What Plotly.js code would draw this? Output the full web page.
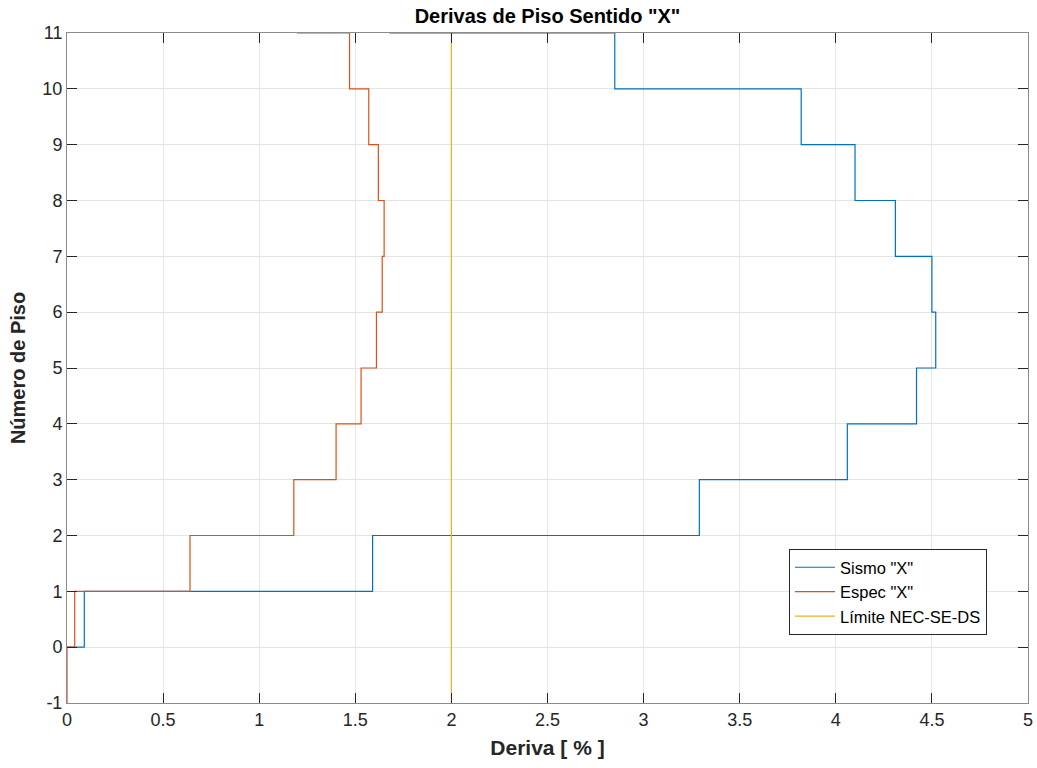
<!DOCTYPE html>
<html>
<head>
<meta charset="utf-8">
<script src="https://cdn.plot.ly/plotly-3.0.1.min.js"></script>
<style>html,body{margin:0;padding:0;background:#fff;}#chart{width:1037px;height:768px;}</style>
</head>
<body>
<div id="chart"></div>
<script>
// Floors (y) and drifts (x) for stairs plots
const sismoFloors = [0, 1, 2, 3, 4, 5, 6, 7, 8, 9, 10, 11, 12];
const sismoDrift  = [0, 0.09, 1.59, 3.29, 4.06, 4.42, 4.52, 4.50, 4.31, 4.10, 3.82, 2.85, 1.68];
const espFloors = [-1, 0, 1, 2, 3, 4, 5, 6, 7, 8, 9, 10, 11, 12];
const espDrift  = [0, 0, 0.04, 0.64, 1.18, 1.40, 1.53, 1.61, 1.64, 1.65, 1.62, 1.57, 1.47, 1.20];
const limFloors = [-1, 11];
const limDrift  = [2, 2];
const seriesNames = ['Sismo "X"', 'Espec "X"', 'Límite NEC-SE-DS'];
const xTicks = [0, 0.5, 1, 1.5, 2, 2.5, 3, 3.5, 4, 4.5, 5];
const yTicks = [-1, 0, 1, 2, 3, 4, 5, 6, 7, 8, 9, 10, 11];

const font = 'Arial, "Liberation Sans", Helvetica, sans-serif';
const traces = [
  {x: sismoDrift, y: sismoFloors, name: seriesNames[0], type: 'scatter', mode: 'lines',
   line: {shape: 'hv', color: '#0072BD', width: 1.2}},
  {x: espDrift, y: espFloors, name: seriesNames[1], type: 'scatter', mode: 'lines',
   line: {shape: 'hv', color: '#D95319', width: 1.2}},
  {x: limDrift, y: limFloors, name: seriesNames[2], type: 'scatter', mode: 'lines',
   line: {color: '#EDB120', width: 1.2}}
];
const axisCommon = {
  showgrid: true, gridcolor: '#e4e4e4', gridwidth: 1,
  zeroline: false, showline: true, linecolor: '#8c8c8c', linewidth: 1,
  mirror: 'ticks', ticks: 'inside', ticklen: 10, tickcolor: '#262626', tickwidth: 1,
  tickfont: {family: font, size: 18, color: '#262626'}
};
const layout = {
  width: 1037, height: 768,
  margin: {l: 67, r: 9, t: 33, b: 65, pad: 0},
  paper_bgcolor: '#ffffff', plot_bgcolor: '#ffffff',
  title: {text: '<b>Derivas de Piso Sentido "X"</b>', font: {family: font, size: 20, color: '#000'},
          x: 0.5, xref: 'paper', y: 1 - 16/768, yanchor: 'middle'},
  xaxis: Object.assign({}, axisCommon, {
    range: [0, 5], tickvals: xTicks, ticktext: xTicks.map(String),
    title: {text: '<b>Deriva [ % ]</b>', font: {family: font, size: 21, color: '#262626'}, standoff: 11}
  }),
  yaxis: Object.assign({}, axisCommon, {
    range: [-1, 11], tickvals: yTicks, ticktext: yTicks.map(String),
    title: {text: '<b>Número de Piso</b>', font: {family: font, size: 20, color: '#262626'}, standoff: 11}
  }),
  showlegend: true,
  legend: {x: (789 - 67) / 961, y: (703 - 549) / 670, xanchor: 'left', yanchor: 'top',
           bgcolor: '#ffffff', bordercolor: '#262626', borderwidth: 1,
           font: {family: font, size: 16.5, color: '#000'}, tracegroupgap: 0, itemwidth: 40}
};
Plotly.newPlot('chart', traces, layout, {displayModeBar: false, staticPlot: true});
</script>
</body>
</html>
